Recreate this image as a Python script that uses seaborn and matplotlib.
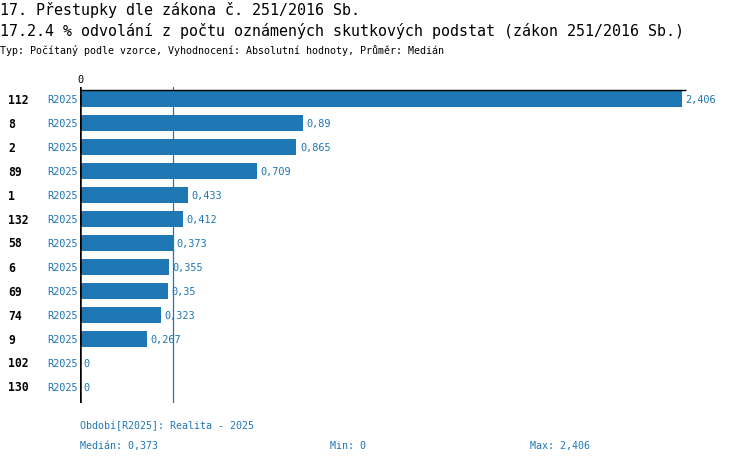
import matplotlib
matplotlib.use("Agg")
import matplotlib.pyplot as plt
import matplotlib.transforms as mtransforms
import numpy as np
import seaborn as sns

# data
labels = ["112", "8", "2", "89", "1", "132", "58", "6", "69", "74", "9", "102", "130"]
values = [2.406, 0.89, 0.865, 0.709, 0.433, 0.412, 0.373, 0.355, 0.35, 0.323, 0.267, 0, 0]
period = "R2025"
median = 0.373

title1 = "17. Přestupky dle zákona č. 251/2016 Sb."
title2 = "17.2.4 % odvolání z počtu oznámených skutkových podstat (zákon 251/2016 Sb.)"
subtitle = "Typ: Počítaný podle vzorce, Vyhodnocení: Absolutní hodnoty, Průměr: Medián"

blue = "#1f77b4"
sns.set_style("white")
plt.rcParams["font.family"] = ["DejaVu Sans Mono", "DejaVu Sans"]
plt.rcParams["text.color"] = "black"

def fmt(v):
    return f"{v:g}".replace(".", ",")

W, H = 750, 464
fig = plt.figure(figsize=(W / 100, H / 100), dpi=100)
ax = fig.add_axes([80 / W, (H - 404) / H, (740 - 80) / W, 316 / H])

sns.barplot(x=values, y=labels, order=labels, color=blue, saturation=1,
            width=16 / 24, linewidth=0, ax=ax)

ax.set_xlim(0, 660 / 250.2)
ax.set_ylim(len(labels) - 1 + 16 / 24, -0.5)
for s in ax.spines.values():
    s.set_visible(False)
ax.set_xticks([])
ax.set_yticks([])
ax.set_xlabel("")
ax.set_ylabel("")

# scale line across the top, zero line and median line
ax.hlines(-0.36, 0, max(values) * 1.006, color="black", lw=1.0, zorder=3)
ax.axvline(0, color="black", lw=1.8, zorder=3)
ax.axvline(median, color=blue, lw=0.9, zorder=0.5)

tr = mtransforms.blended_transform_factory(fig.transFigure, ax.transData)
for i, (lab, v) in enumerate(zip(labels, values)):
    ax.text(8 / W, i, lab, transform=tr, ha="left", va="center",
            fontsize=8.3, fontweight="bold", color="black")
    ax.text(78 / W, i, period, transform=tr, ha="right", va="center",
            fontsize=7.4, color=blue)
    ax.annotate(fmt(v), (v, i), xytext=(2.5, 0), textcoords="offset points",
                ha="left", va="center", fontsize=7.4, color=blue)

fig.text(80 / W, 1 - 80 / H, "0", ha="center", va="center", fontsize=7.4)

fig.text(0, 1 - 10 / H, title1, ha="left", va="center", fontsize=10.8)
fig.text(0, 1 - 31 / H, title2, ha="left", va="center", fontsize=10.8)
fig.text(0, 1 - 50 / H, subtitle, ha="left", va="center", fontsize=7.2)

fig.text(80 / W, 1 - 426 / H, f"Období[{period}]: Realita - 2025",
         ha="left", va="center", fontsize=7.2, color=blue)
fig.text(80 / W, 1 - 446 / H, f"Medián: {fmt(median)}",
         ha="left", va="center", fontsize=7.2, color=blue)
fig.text(330 / W, 1 - 446 / H, f"Min: {fmt(min(values))}",
         ha="left", va="center", fontsize=7.2, color=blue)
fig.text(530 / W, 1 - 446 / H, f"Max: {fmt(max(values))}",
         ha="left", va="center", fontsize=7.2, color=blue)

fig.savefig("out.png", dpi=100)
